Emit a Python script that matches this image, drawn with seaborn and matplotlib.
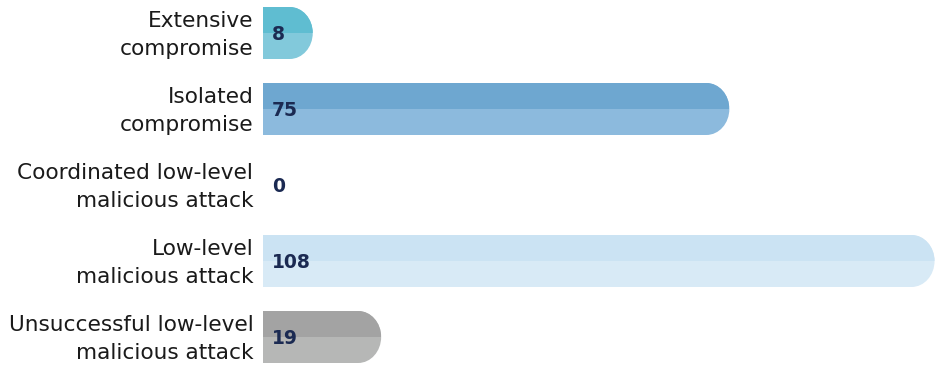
import matplotlib
matplotlib.use("Agg")
import matplotlib.pyplot as plt
import matplotlib.transforms as mtransforms
import seaborn as sns
import pandas as pd
from matplotlib.path import Path
from matplotlib.patches import PathPatch, Rectangle

categories = ["Extensive\ncompromise", "Isolated\ncompromise",
              "Coordinated low-level\nmalicious attack", "Low-level\nmalicious attack",
              "Unsuccessful low-level\nmalicious attack"]
values = [8, 75, 0, 108, 19]
top_colors = ["#5FBDD1", "#6EA7D0", "#BFD9EE", "#CBE3F3", "#A3A3A3"]
bottom_colors = ["#82C9DB", "#8CBADD", "#CFE3F3", "#D8EAF6", "#B6B7B6"]

sns.set_theme(style="white")
plt.rcParams['font.family'] = ['DejaVu Sans']

df = pd.DataFrame({"category": categories, "value": values})

fig = plt.figure(figsize=(9.42, 3.75), dpi=100)
ax = fig.add_axes([263/942, 0.0, 1 - 263/942, 1.0])
sns.barplot(data=df, y="category", x="value", hue="category",
            palette=bottom_colors, orient="h", width=0.684, ax=ax, legend=False)

ax.set_xlim(0, 109.2)
ax.set_ylim(4 + 38/76, -33/76)

px_per_unit = (ax.transData.transform((1, 0))[0] - ax.transData.transform((0, 0))[0])
rx = 23 / px_per_unit
k = 0.5523

patches = list(ax.patches)
for i, p in enumerate(patches):
    x0 = p.get_x()
    w = p.get_width()
    y0 = p.get_y()
    h = p.get_height()
    p.set_visible(False)
    if w <= 0:
        continue
    x1 = x0 + w
    y1 = y0 + h
    yc = (y0 + y1) / 2
    ry = h / 2
    r = min(rx, w)
    verts = [(x0, y0), (x1 - r, y0),
             (x1 - r + k * r, y0), (x1, yc - k * ry), (x1, yc),
             (x1, yc + k * ry), (x1 - r + k * r, y1), (x1 - r, y1),
             (x0, y1), (x0, y0)]
    codes = [Path.MOVETO, Path.LINETO,
             Path.CURVE4, Path.CURVE4, Path.CURVE4,
             Path.CURVE4, Path.CURVE4, Path.CURVE4,
             Path.LINETO, Path.CLOSEPOLY]
    shape = PathPatch(Path(verts, codes), facecolor=bottom_colors[i],
                      edgecolor="none", zorder=2)
    ax.add_patch(shape)
    top = Rectangle((x0, y0), w, h / 2, facecolor=top_colors[i],
                    edgecolor="none", zorder=3)
    ax.add_patch(top)
    top.set_clip_path(shape)

for i, v in enumerate(values):
    ax.text(1.4, i + 0.02, str(v), ha="left", va="center", fontsize=13.5,
            fontweight="bold", color="#1B2A52", zorder=5)

ax.set_xlabel("")
ax.set_ylabel("")
ax.set_xticks([])
for s in ax.spines.values():
    s.set_visible(False)
ax.tick_params(axis="y", length=0, pad=7)
offset = mtransforms.ScaledTranslation(0, 4 / 100, fig.dpi_scale_trans)
for lbl in ax.get_yticklabels():
    lbl.set_fontsize(15.6)
    lbl.set_color("#1a1a1a")
    lbl.set_multialignment("right")
    lbl.set_linespacing(1.5)
    lbl.set_transform(lbl.get_transform() + offset)

fig.savefig("out.png", dpi=100)
